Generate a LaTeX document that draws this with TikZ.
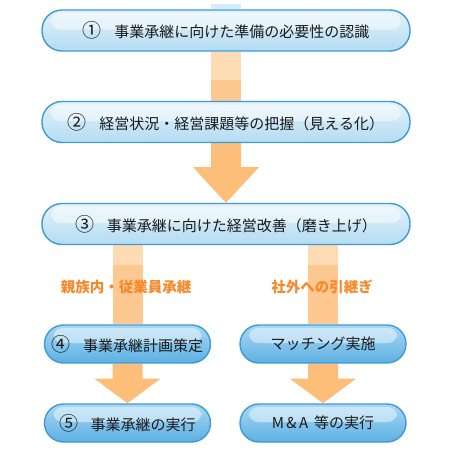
\documentclass[tikz,border=0pt]{standalone}
\usepackage{fontspec}
\setmainfont{Noto Sans CJK JP}
\usetikzlibrary{calc,backgrounds}

\definecolor{boxline}{HTML}{3C9BD5}
\definecolor{boxtop}{HTML}{E4F3FB}
\definecolor{boxbot}{HTML}{B3DCF2}
\definecolor{subtop}{HTML}{A9D8F4}
\definecolor{subbot}{HTML}{5DB0E2}
\definecolor{arrowfill}{HTML}{FDBE79}
\definecolor{stripelight}{HTML}{FEDCB3}
\definecolor{stripedark}{HTML}{FEC991}
\definecolor{paleblue}{HTML}{D6ECF8}
\definecolor{labelorange}{HTML}{F5892C}
\definecolor{boxtext}{HTML}{1A1A1A}

% circled step number, a bit larger than the text
\newcommand{\stepno}[1]{\makebox[1.15em][l]{\fontsize{19}{19}\selectfont #1}\hspace{0.95em}}

\tikzset{
  gloss/.style={path picture={
      \fill[white,opacity=0.45,rounded corners=9pt]
        ($(path picture bounding box.north west)+(9pt,-3pt)$) rectangle
        ($(path picture bounding box.east)+(-9pt,1pt)$);}},
  stepbox/.style={draw=boxline, line width=1.4pt, rounded corners=20pt,
    top color=boxtop, bottom color=boxbot, gloss,
    minimum width=368pt, minimum height=41pt, text=boxtext,
    font=\fontsize{15}{15}\selectfont},
  subbox/.style={stepbox, rounded corners=19pt, top color=subtop,
    bottom color=subbot, minimum width=166pt, minimum height=38pt},
  branchlabel/.style={text=labelorange, font=\fontsize{14.5}{14.5}\bfseries\selectfont}
}

\begin{document}
\begin{tikzpicture}[x=1pt,y=-1pt]
  \useasboundingbox (0,0) rectangle (450,450);

  % ---- steps --------------------------------------
  \node[stepbox] (need)    at (226,30.5) {\stepno{①}事業承継に向けた準備の必要性の認識};
  \node[stepbox] (grasp)   at (226,122)  {\stepno{②}経営状況・経営課題等の把握（見える化）};
  \node[stepbox] (improve) at (226,224)  {\stepno{③}事業承継に向けた経営改善（磨き上げ）};
  \node[subbox]  (plan)    at (127.5,344) {\stepno{④}事業承継計画策定};
  \node[subbox]  (exec)    at (127.5,423) {\stepno{⑤}事業承継の実行};
  \node[subbox]  (match)   at (323,344)  {マッチング実施};
  \node[subbox]  (mna)     at (323,423)  {M\,\&\,A\, 等の実行};

  % ---- branch labels ------------------------------
  \node[branchlabel] (inside)  at (126,287) {親族内・従業員承継};
  \node[branchlabel] (outside) at (322,287) {社外への引継ぎ};

  % ---- stripes and arrows behind the boxes --------
  \begin{pgfonlayer}{background}
    \fill[paleblue] ($(need.north)+(-15,-5)$) rectangle ($(need.north)+(15,0)$);
    \fill[stripelight] ($(need.south)+(-15,0)$) rectangle ($(need.south)+(15,28)$);
    \fill[stripedark] ($(need.south)+(-15,28)$) rectangle ($(grasp.north)+(15,0)$);

    \fill[arrowfill] ($(grasp.south)+(-15,0)$) -- ++(0,24) -- ++(-18,0)
      -- (improve.north) -- ($(grasp.south)+(33,24)$) -- ++(-18,0)
      -- ($(grasp.south)+(15,0)$) -- cycle;

    \foreach \top/\bot in {plan/exec,match/mna}{
      \fill[stripelight] ($(improve.south -| \top.north)+(-15,0)$) rectangle
        ($(improve.south -| \top.north)+(15,20)$);
      \fill[stripedark] ($(improve.south -| \top.north)+(-15,20)$) rectangle
        ($(\top.north)+(15,0)$);
      \fill[arrowfill] ($(\top.south)+(-15,0)$) -- ++(0,15) -- ++(-18,0)
        -- (\bot.north) -- ($(\top.south)+(33,15)$) -- ++(-18,0)
        -- ($(\top.south)+(15,0)$) -- cycle;
    }
  \end{pgfonlayer}
\end{tikzpicture}
\end{document}
